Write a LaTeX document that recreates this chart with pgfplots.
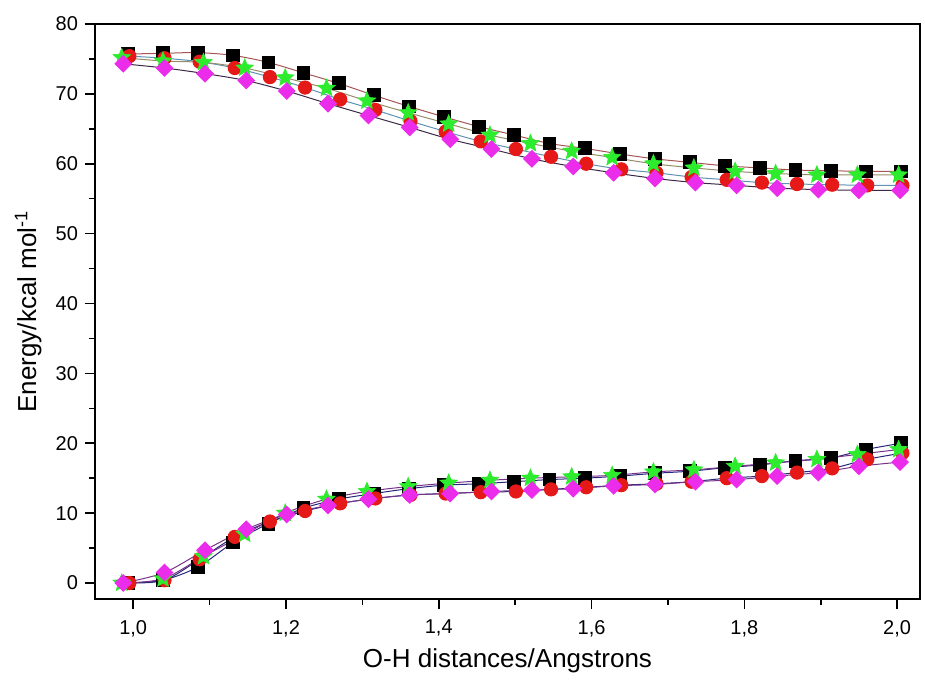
\documentclass[border=0pt]{standalone}
\usepackage{pgfplots}
\pgfplotsset{compat=1.18}
\usepackage{pgfplotstable}
\usepackage{fontspec}
\setmainfont{Liberation Sans}

\definecolor{mkred}{RGB}{230,25,25}
\definecolor{mkgreen}{RGB}{45,235,45}
\definecolor{mkmag}{RGB}{235,45,235}
\definecolor{lnbrown}{RGB}{165,85,85}
\definecolor{lnteal}{RGB}{95,145,180}
\definecolor{lnolive}{RGB}{150,140,105}
\definecolor{lndark}{RGB}{60,40,70}
\definecolor{lnnavy}{RGB}{40,40,120}
\definecolor{lnpurple}{RGB}{120,50,140}

% filled five-pointed star
\pgfdeclareplotmark{fstar}{%
  \pgfpathmoveto{\pgfpointpolar{90}{\pgfplotmarksize}}%
  \pgfpathlineto{\pgfpointpolar{126}{0.45\pgfplotmarksize}}%
  \pgfpathlineto{\pgfpointpolar{162}{\pgfplotmarksize}}%
  \pgfpathlineto{\pgfpointpolar{198}{0.45\pgfplotmarksize}}%
  \pgfpathlineto{\pgfpointpolar{234}{\pgfplotmarksize}}%
  \pgfpathlineto{\pgfpointpolar{270}{0.45\pgfplotmarksize}}%
  \pgfpathlineto{\pgfpointpolar{306}{\pgfplotmarksize}}%
  \pgfpathlineto{\pgfpointpolar{342}{0.45\pgfplotmarksize}}%
  \pgfpathlineto{\pgfpointpolar{18}{\pgfplotmarksize}}%
  \pgfpathlineto{\pgfpointpolar{54}{0.45\pgfplotmarksize}}%
  \pgfpathclose
  \pgfusepathqfillstroke}

% black squares
\pgfplotstableread{
x     up    low
0.993 75.7  0.0
1.039 75.8  0.4
1.085 75.9  2.3
1.131 75.5  5.8
1.177 74.5  8.5
1.223 73.0  10.7
1.269 71.5  12.0
1.315 69.8  12.8
1.361 68.2  13.5
1.407 66.7  14.0
1.453 65.3  14.2
1.499 64.1  14.5
1.545 62.9  14.8
1.591 62.2  15.0
1.637 61.4  15.3
1.683 60.7  15.7
1.729 60.2  16.0
1.775 59.7  16.5
1.821 59.4  16.9
1.867 59.1  17.5
1.913 59.0  17.9
1.959 58.9  19.1
2.005 58.9  20.0
}\sqtab

% red circles
\pgfplotstableread{
x     up    low
0.995 75.4  0.0
1.041 75.1  0.4
1.087 74.6  3.4
1.133 73.7  6.6
1.179 72.4  8.8
1.225 70.9  10.3
1.271 69.2  11.4
1.317 67.7  12.1
1.363 66.1  12.6
1.409 64.6  12.8
1.455 63.2  13.0
1.501 62.1  13.1
1.547 61.0  13.4
1.593 60.0  13.7
1.639 59.2  14.0
1.685 58.7  14.2
1.731 58.1  14.5
1.777 57.7  15.0
1.823 57.3  15.3
1.869 57.1  15.8
1.915 57.0  16.4
1.961 56.9  17.7
2.007 56.9  18.6
}\circtab

% green stars
\pgfplotstableread{
x     up    low
0.985 75.2  0.0
1.039 74.7  0.6
1.092 74.5  3.8
1.146 73.7  7.0
1.199 72.3  10.0
1.253 70.8  12.0
1.306 69.0  13.1
1.360 67.3  13.8
1.413 65.7  14.3
1.467 64.1  14.7
1.520 62.9  15.0
1.574 61.8  15.2
1.627 60.9  15.4
1.681 60.0  15.9
1.734 59.4  16.2
1.788 58.9  16.7
1.841 58.6  17.2
1.895 58.4  17.7
1.948 58.4  18.4
2.002 58.4  19.1
}\startab

% magenta diamonds
\pgfplotstableread{
x     up    low
0.987 74.3  0.0
1.041 73.7  1.5
1.094 72.9  4.7
1.148 71.9  7.7
1.201 70.4  9.8
1.255 68.6  11.1
1.308 66.9  12.0
1.362 65.2  12.6
1.415 63.5  12.8
1.469 62.1  13.1
1.522 60.7  13.3
1.576 59.6  13.5
1.629 58.7  13.9
1.683 57.9  14.1
1.736 57.3  14.5
1.790 56.9  14.8
1.843 56.5  15.3
1.897 56.3  15.8
1.950 56.2  16.7
2.004 56.2  17.3
}\diatab

\begin{document}
\begin{tikzpicture}
\begin{axis}[
    scale only axis,
    width=412.5pt, height=287.5pt,
    xmin=0.95, xmax=2.03,
    ymin=-2.29, ymax=80,
    xtick={1,1.2,1.4,1.6,1.8,2},
    minor xtick={1.1,1.3,1.5,1.7,1.9},
    ytick={0,10,20,30,40,50,60,70,80},
    minor ytick={5,15,25,35,45,55,65,75},
    tick pos=left,
    tick align=outside,
    major tick length=5pt,
    minor tick length=3pt,
    axis line style={line width=1pt},
    major tick style={line width=0.8pt, black},
    minor tick style={line width=0.8pt, black},
    /pgf/number format/assume math mode=true,
    tick label style={font=\fontsize{10}{12}\selectfont},
    x tick label style={/pgf/number format/.cd, fixed, fixed zerofill, precision=1, use comma, /tikz/.cd, yshift=-2pt},
    xlabel={O-H distances/Angstrons},
    ylabel={Energy/kcal mol\textsuperscript{-1}},
    label style={font=\fontsize{13}{15}\selectfont},
    xlabel style={at={(axis description cs:0.5,-0.108)}, anchor=center},
    ylabel style={at={(axis description cs:-0.081,0.5)}, anchor=center},
    clip=false,
    every axis plot/.append style={line width=0.5pt, smooth, tension=0.5},
]
% black squares
\addplot[lnbrown, mark=square*, mark size=3.2pt, mark options={fill=black, draw=black}] table[x=x, y=up] {\sqtab};
\addplot[lnnavy, mark=square*, mark size=3.2pt, mark options={fill=black, draw=black}] table[x=x, y=low] {\sqtab};
% red circles
\addplot[lnteal, mark=*, mark size=3.3pt, mark options={fill=mkred, draw=mkred}] table[x=x, y=up] {\circtab};
\addplot[lnnavy, mark=*, mark size=3.3pt, mark options={fill=mkred, draw=mkred}] table[x=x, y=low] {\circtab};
% green stars
\addplot[lnolive, mark=fstar, mark size=4.6pt, mark options={fill=mkgreen, draw=mkgreen, line width=0.3pt}] table[x=x, y=up] {\startab};
\addplot[lnpurple, mark=fstar, mark size=4.6pt, mark options={fill=mkgreen, draw=mkgreen, line width=0.3pt}] table[x=x, y=low] {\startab};
% magenta diamonds
\addplot[lndark, mark=square*, mark size=2.9pt, mark options={rotate=45, fill=mkmag, draw=mkmag}] table[x=x, y=up] {\diatab};
\addplot[lnpurple, mark=square*, mark size=2.9pt, mark options={rotate=45, fill=mkmag, draw=mkmag}] table[x=x, y=low] {\diatab};
\end{axis}
\pgfresetboundingbox
\path ([xshift=-47.5pt,yshift=-40.5pt]current axis.south west) rectangle ([xshift=2.5pt,yshift=12pt]current axis.north east);
\end{tikzpicture}
\end{document}
